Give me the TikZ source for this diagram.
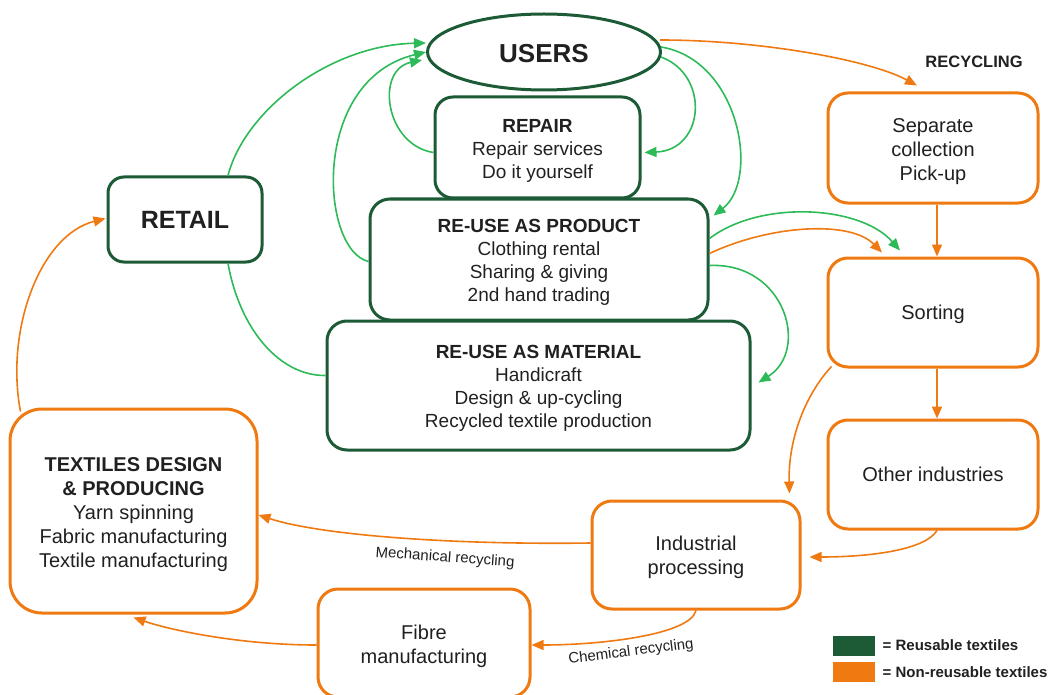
\documentclass[tikz,border=0pt]{standalone}
\usepackage{fontspec}
\setmainfont{Liberation Sans}
\usetikzlibrary{arrows.meta,positioning,shapes.geometric}

\definecolor{reusegreen}{HTML}{1D5B36}
\definecolor{arrowgreen}{HTML}{2DBA58}
\definecolor{recycorange}{HTML}{F07A12}
\definecolor{textgrey}{HTML}{202020}

% lines of a box, lowered a little inside the box
\newcommand{\boxlines}[2][3pt]{\raisebox{-#1}[\height][\depth]{\begin{tabular}{@{}c@{}}#2\end{tabular}}}

\tikzset{
    greenbox/.style={draw=reusegreen, line width=3pt, rounded corners=20pt, align=center, text=textgrey, font={\fontsize{19}{23}\selectfont}, inner sep=0pt},
    orangebox/.style={draw=recycorange, line width=3pt, rounded corners=20pt, align=center, text=textgrey, font={\fontsize{20}{24}\selectfont}, inner sep=0pt},
    greenarrow/.style={draw=arrowgreen, line width=1.6pt, -{Triangle[length=12pt,width=10pt]}},
    orangearrow/.style={draw=recycorange, line width=1.6pt, -{Triangle[length=12pt,width=10pt]}},
    flowlabel/.style={font={\fontsize{15}{17}\selectfont}, text=textgrey},
    legendtext/.style={font={\fontsize{15}{17}\selectfont\bfseries}, text=textgrey, anchor=west}
}

\begin{document}
\begin{tikzpicture}[x=1pt, y=-1pt]
        \useasboundingbox (0,0) rectangle (1054,695);

        % reusable textiles
        \node[ellipse, draw=reusegreen, line width=3pt, minimum width=233pt, minimum height=76pt, inner sep=0pt, text=textgrey, font={\fontsize{26}{30}\selectfont\bfseries}] (users) at (544,52) {\raisebox{-1.5pt}[\height][\depth]{USERS}};
        \node[greenbox, minimum width=205pt, minimum height=101pt, rounded corners=18pt] (repair) at (537.5,147.5) {\boxlines{\textbf{REPAIR}\\Repair services\\Do it yourself}};
        \node[greenbox, minimum width=338pt, minimum height=121pt] (product) at (539,259.5) {\boxlines{\textbf{RE-USE AS PRODUCT}\\Clothing rental\\Sharing \& giving\\2nd hand trading}};
        \node[greenbox, minimum width=423pt, minimum height=129pt] (material) at (538.5,385.5) {\boxlines{\textbf{RE-USE AS MATERIAL}\\Handicraft\\Design \& up-cycling\\Recycled textile production}};
        \node[greenbox, minimum width=154pt, minimum height=85pt, rounded corners=16pt, font={\fontsize{25}{30}\selectfont\bfseries}] (retail) at (185,219.5) {RETAIL};

        % non-reusable textiles
        \node[orangebox, minimum width=247pt, minimum height=204pt, rounded corners=32pt] (textiles) at (133.5,511) {\boxlines[4pt]{\textbf{TEXTILES DESIGN}\\\textbf{\& PRODUCING}\\Yarn spinning\\Fabric manufacturing\\Textile manufacturing}};
        \node[orangebox, minimum width=210pt, minimum height=110pt] (sep) at (933,148) {\boxlines[4pt]{Separate\\collection\\Pick-up}};
        \node[orangebox, minimum width=210pt, minimum height=109pt] (sort) at (933,312.5) {\raisebox{-2pt}[\height][\depth]{Sorting}};
        \node[orangebox, minimum width=210pt, minimum height=109pt] (other) at (933,474.5) {Other industries};
        \node[orangebox, minimum width=208pt, minimum height=108pt] (industrial) at (696,555) {\boxlines[2.5pt]{Industrial\\processing}};
        \node[orangebox, minimum width=212pt, minimum height=108pt] (fibre) at (424,643) {\boxlines[4pt]{Fibre\\manufacturing}};

        \node[font={\fontsize{16.5}{18}\selectfont\bfseries}, text=textgrey] (recycling) at (974,62) {RECYCLING};

        % green loops
        \draw[greenarrow] ([xshift=43pt]retail.north) .. controls (245,110) and (330,45) .. ([yshift=9pt]users.west);
        \draw[draw=arrowgreen, line width=1.6pt] ([xshift=43pt]retail.south) .. controls (240,330) and (280,376) .. ([yshift=10pt]material.west);
        \draw[greenarrow] ([yshift=-5pt]repair.west) .. controls (385,145) and (375,70) .. ([xshift=-4pt,yshift=-8pt]users.west);
        \draw[greenarrow] ([yshift=-2pt]product.west) .. controls (320,250) and (310,80) .. (users.west);
        \draw[greenarrow] ([xshift=-1pt,yshift=-5pt]users.east) .. controls (710,75) and (705,150) .. ([xshift=3pt,yshift=-5pt]repair.east);
        \draw[greenarrow] ([xshift=-1pt,yshift=5pt]users.east) .. controls (740,60) and (760,180) .. ([xshift=4pt,yshift=-18pt]product.north east);
        \draw[greenarrow] ([yshift=21pt]product.east) .. controls (760,200) and (860,205) .. ([xshift=-33pt,yshift=6pt]sort.north);
        \draw[greenarrow] ([yshift=-6pt]product.east) .. controls (785,262) and (810,350) .. ([xshift=7pt,yshift=3pt]material.east);

        % orange flow
        \draw[orangearrow] ([xshift=-2pt,yshift=12pt]users.east) .. controls (760,40) and (870,60) .. ([xshift=-16pt,yshift=6pt]sep.north);
        \draw[orangearrow] ([yshift=6pt]product.east) .. controls (770,225) and (850,220) .. ([xshift=-51pt,yshift=4pt]sort.north);
        \draw[orangearrow] ([xshift=4pt]sep.south) -- ([xshift=4pt]sort.north);
        \draw[orangearrow] ([xshift=4pt]sort.south) -- ([xshift=4pt]other.north);
        \draw[orangearrow] ([xshift=5pt,yshift=2pt]sort.south west) .. controls (805,395) and (788,440) .. ([xshift=-12pt,yshift=6pt]industrial.north east);
        \draw[orangearrow] ([xshift=4pt]other.south) .. controls (925,550) and (870,557) .. ([xshift=8pt,yshift=-2pt]industrial.east);
        \draw[orangearrow] ([yshift=12pt]industrial.west) .. controls (450,545) and (320,535) .. ([yshift=-4pt]textiles.east);
        \draw[orangearrow] (industrial.south) .. controls (690,635) and (600,645) .. ([yshift=-2pt]fibre.east);
        \draw[orangearrow] ([yshift=-2pt]fibre.west) .. controls (240,645) and (170,630) .. ([yshift=-3pt]textiles.south);
        \draw[orangearrow] ([xshift=12pt,yshift=-4pt]textiles.north west) .. controls (5,330) and (40,235) .. ([xshift=-1pt,yshift=1pt]retail.west);

        \node[flowlabel, rotate=-4] (mechlabel) at (445,558) {Mechanical recycling};
        \node[flowlabel, rotate=7] (chemlabel) at (631,652) {Chemical recycling};

        % legend
        \node[fill=reusegreen, minimum width=42pt, minimum height=20pt, inner sep=0pt] (legreuse) at (854,645.5) {};
        \node[fill=recycorange, minimum width=42pt, minimum height=20pt, inner sep=0pt] (legrecyc) at (854,672) {};
        \node[legendtext, right=4pt of legreuse] (legreusetext) {= Reusable textiles};
        \node[legendtext, right=4pt of legrecyc] (legrecyctext) {= Non-reusable textiles};
    \end{tikzpicture}
\end{document}
